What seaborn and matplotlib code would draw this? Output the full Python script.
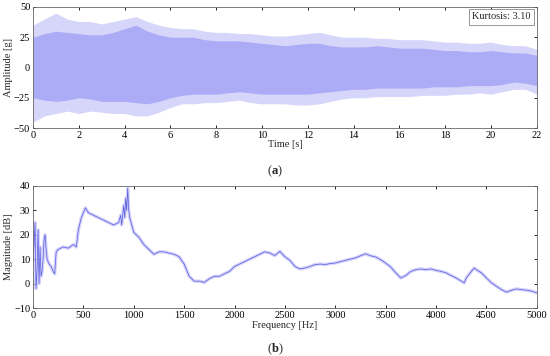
import numpy as np
import pandas as pd
import matplotlib
matplotlib.use("Agg")
import matplotlib.pyplot as plt
import seaborn as sns

# ------------------------------------------------------------
# data
# ------------------------------------------------------------
# (a) time signal: envelopes of the dense band and of the outer spikes [g]
time_s = [0, 0.5, 1, 1.5, 2, 2.5, 3, 3.5, 4, 4.5, 5, 5.5, 6, 6.5, 7, 7.5, 8, 8.5, 9,
          9.5, 10, 10.5, 11, 11.5, 12, 12.5, 13, 13.5, 14, 14.5, 15, 15.5, 16, 16.5,
          17, 17.5, 18, 18.5, 19, 19.5, 20, 20.5, 21, 21.5, 22]
band_upper = [25, 28, 30, 29, 28, 27, 27, 29, 32, 35, 30, 27, 25, 25, 25, 23, 22, 22, 22,
              21, 20, 19, 18, 19, 20, 20, 18, 17, 17, 17, 18, 17, 16, 16, 16, 15, 14, 14,
              13, 13, 14, 13, 12, 12, 10]
band_lower = [-25, -27, -28, -27, -25, -26, -28, -28, -28, -29, -30, -28, -25, -23, -22,
              -22, -22, -21, -20, -21, -22, -22, -22, -22, -22, -21, -20, -19, -18, -18,
              -17, -17, -17, -17, -17, -16, -16, -16, -15, -15, -15, -14, -12, -13, -15]
peak_upper = [35, 40, 45, 40, 38, 38, 36, 38, 40, 42, 38, 35, 33, 32, 32, 30, 29, 29, 28,
              28, 27, 26, 26, 27, 28, 29, 27, 25, 25, 25, 24, 24, 23, 23, 23, 22, 21, 21,
              20, 20, 21, 19, 18, 18, 15]
peak_lower = [-45, -40, -38, -36, -38, -36, -37, -38, -38, -40, -40, -37, -33, -30, -30,
              -29, -29, -28, -27, -29, -30, -30, -30, -31, -31, -30, -28, -26, -25, -25,
              -24, -24, -24, -24, -23, -23, -23, -22, -22, -21, -22, -20, -18, -18, -22]
kurtosis = 3.10

# (b) spectrum magnitude [dB]
freq_hz = [0, 10, 20, 30, 40, 50, 60, 70, 80, 90, 100, 110, 120, 130, 140, 160, 180, 200,
           215, 230, 250, 300, 350, 400, 430, 450, 480, 500, 520, 550, 600, 650, 700, 750,
           800, 850, 870, 880, 900, 910, 920, 930, 940, 950, 960, 980, 1000, 1050, 1100,
           1150, 1200, 1250, 1300, 1350, 1400, 1450, 1500, 1550, 1600, 1650, 1700, 1750,
           1800, 1850, 1900, 1950, 2000, 2050, 2100, 2150, 2200, 2250, 2300, 2350, 2400,
           2450, 2500, 2550, 2600, 2650, 2700, 2750, 2800, 2850, 2900, 2950, 3000, 3050,
           3100, 3150, 3200, 3250, 3300, 3350, 3400, 3450, 3500, 3550, 3600, 3650, 3700,
           3750, 3800, 3850, 3900, 3950, 4000, 4050, 4100, 4150, 4200, 4250, 4280, 4300,
           4350, 4380, 4400, 4450, 4500, 4550, 4600, 4650, 4700, 4750, 4800, 4850, 4900,
           4950, 5000]
magnitude_db = [10, 15, 25, -2, 5, 22, 0, 15, 3, 5, 10, 18, 20, 14, 10, 8, 7, 5,
                4, 13, 14, 15, 14.5, 16, 15, 22, 27, 29, 31, 29, 28, 27, 26, 25,
                24, 25, 28, 24, 32, 27, 35, 30, 39, 30, 27, 24, 21, 19, 16,
                14, 12, 13, 13, 12.5, 12, 11, 8, 3, 1, 1, 0.5, 2,
                3, 3, 4, 5, 7, 8, 9, 10, 11, 12, 13, 12.5, 11.5,
                13.2, 11, 9.5, 7, 6, 6.4, 7, 7.8, 8, 7.8, 8.2, 8.4, 9,
                9.5, 10, 10.5, 11.4, 12.2, 11.4, 10.9, 9.8, 8.4, 6.8, 4.4, 2.3, 3.3,
                5, 5.7, 6, 5.7, 6, 5.4, 5, 4.4, 3.3, 2.3, 1, 0.3, 2.3,
                5, 6.4, 5.7, 4.4, 2.3, 0.3, -1.1, -2.5, -3.5, -2.7, -2.2, -2.5, -2.7,
                -3.1, -3.8]

sig = pd.DataFrame({"t": time_s, "bu": band_upper, "bl": band_lower,
                    "pu": peak_upper, "pl": peak_lower})
spec = pd.DataFrame({"f": freq_hz, "mag": magnitude_db})

# ------------------------------------------------------------
# style
# ------------------------------------------------------------
sns.set_theme(style="ticks")
plt.rcParams["font.family"] = ["Liberation Serif", "DejaVu Serif"]
plt.rcParams["mathtext.fontset"] = "custom"
plt.rcParams["mathtext.rm"] = "Liberation Serif"
plt.rcParams["mathtext.bf"] = "Liberation Serif:bold"
plt.rcParams["xtick.direction"] = "in"
plt.rcParams["ytick.direction"] = "in"
plt.rcParams["xtick.top"] = True
plt.rcParams["ytick.right"] = True

fig = plt.figure(figsize=(5.5, 3.56), dpi=100)
ax1 = fig.add_axes([0.06, 0.6404, 0.916, 0.340])
ax2 = fig.add_axes([0.06, 0.1348, 0.916, 0.343])

# ------------------------------------------------------------
# (a) time signal
# ------------------------------------------------------------
ax1.fill_between(sig["t"], sig["pl"], sig["pu"], color="#d6d6fb", lw=0)
ax1.fill_between(sig["t"], sig["bl"], sig["bu"], color="#acacf6", lw=0)
ax1.set_xlim(0, 22)
ax1.set_ylim(-50, 50)
ax1.set_xticks(range(0, 23, 2))
ax1.set_yticks([-50, -25, 0, 25, 50])
ax1.set_xlabel("Time [s]", fontsize=7.5, labelpad=0)
ax1.set_ylabel("Amplitude [g]", fontsize=7.5, labelpad=1)
ax1.text(0.988, 0.955, f"Kurtosis: {kurtosis:.2f}", transform=ax1.transAxes,
         ha="right", va="top", fontsize=7.5,
         bbox=dict(boxstyle="square,pad=0.35", fc="white", ec="#888888", lw=0.6))
fig.text(0.5, 0.52, r"($\mathbf{a}$)", ha="center", va="center", fontsize=9)

# ------------------------------------------------------------
# (b) spectrum
# ------------------------------------------------------------
sns.lineplot(data=spec, x="f", y="mag", ax=ax2, color="#c0c0f9", lw=2.4, alpha=0.7)
sns.lineplot(data=spec, x="f", y="mag", ax=ax2, color="#5a5ae0", lw=0.5)
ax2.set_xlim(0, 5000)
ax2.set_ylim(-10, 40)
ax2.set_xticks(range(0, 5001, 500))
ax2.set_yticks(range(-10, 41, 10))
ax2.set_xlabel("Frequency [Hz]", fontsize=7.5, labelpad=1)
ax2.set_ylabel("Magnitude [dB]", fontsize=7.5, labelpad=1)
fig.text(0.5, 0.02, r"($\mathbf{b}$)", ha="center", va="center", fontsize=9)

for ax in (ax1, ax2):
    ax.tick_params(labelsize=7.5, length=2.5, width=0.6, pad=2, colors="black")
    for sp in ax.spines.values():
        sp.set_linewidth(0.6)
        sp.set_color("#666666")

fig.savefig("out.png", dpi=100)
